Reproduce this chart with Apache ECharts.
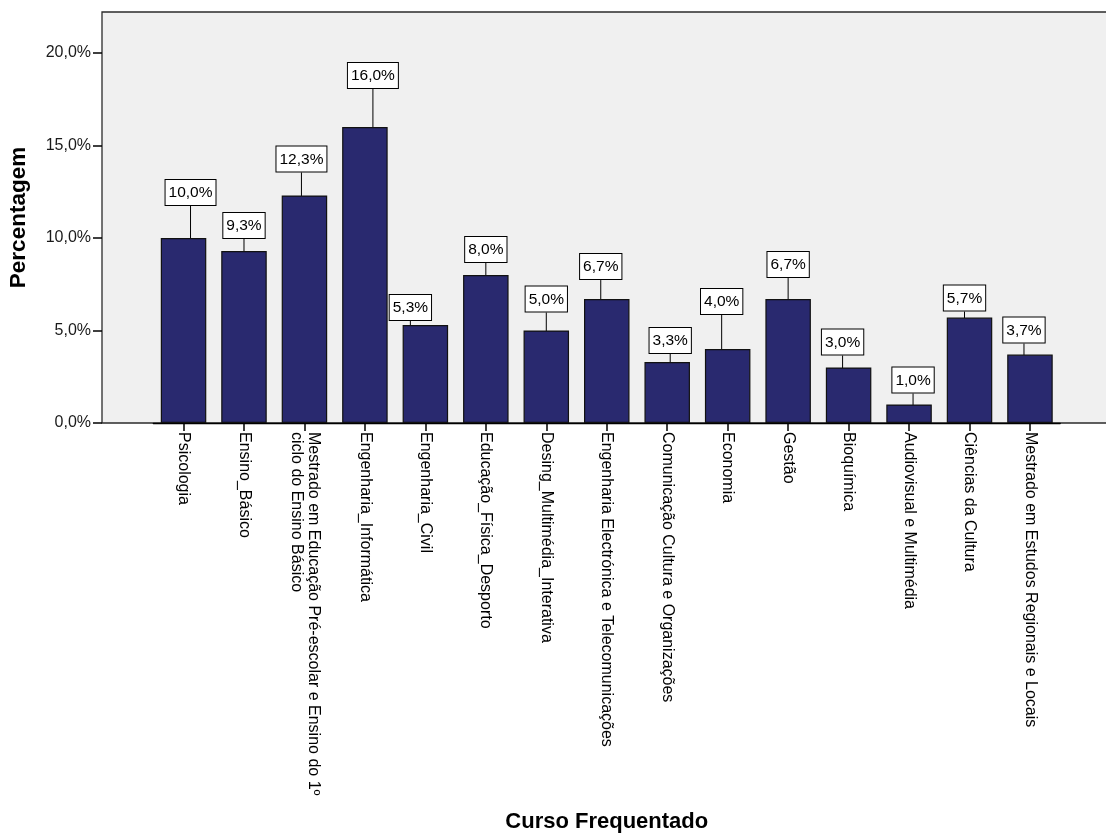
<!DOCTYPE html>
<html>
<head>
<meta charset="utf-8">
<title>Curso Frequentado</title>
<script src="https://cdn.jsdelivr.net/npm/echarts@6/dist/echarts.min.js"></script>
<style>
  html, body { margin: 0; padding: 0; background: #ffffff; }
  #chart { width: 1106px; height: 839px; }
</style>
</head>
<body>
<div id="chart"></div>
<script>
// Courses attended and the share of respondents in each (percent)
const cursos = [
  'Psicologia',
  'Ensino_Básico',
  'Mestrado em Educação Pré-escolar e Ensino do 1º\nciclo do Ensino Básico',
  'Engenharia_Informática',
  'Engenharia_Civil',
  'Educação_Física_Desporto',
  'Desing_Multimédia_Interativa',
  'Engenharia Electrónica e Telecomunicações',
  'Comunicação Cultura e Organizações',
  'Economia',
  'Gestão',
  'Bioquímica',
  'Audiovisual e Multimédia',
  'Ciências da Cultura',
  'Mestrado em Estudos Regionais e Locais'
];
const percentagens = [10.0, 9.3, 12.3, 16.0, 5.3, 8.0, 5.0, 6.7, 3.3, 4.0, 6.7, 3.0, 1.0, 5.7, 3.7];
const yTicks = [0, 5, 10, 15, 20];

// Callout placement for the value boxes (pixels: lift above the bar, sideways nudge)
const calloutLift = [28, 8, 19, 34, 0, 8, 14, 15, 4, 30, 17, 8, 7, 2, 7];
const calloutShift = [7, 0, -3, 8, -15, 0, 0, -6, 3, -6, 0, -6, 4, -5, -6];

const FONT = "'Liberation Sans', Arial, Helvetica, sans-serif";
const fmtPct = v => v.toFixed(1).replace('.', ',') + '%';

const chart = echarts.init(document.getElementById('chart'), null, { renderer: 'canvas' });

chart.setOption({
  animation: false,
  backgroundColor: '#ffffff',
  textStyle: { fontFamily: FONT },
  grid: [
    // plot frame with its grey fill
    { left: 102, top: 12, right: -6, bottom: 416, show: true,
      backgroundColor: '#f0f0f0', borderColor: '#2b2b2b', borderWidth: 1.3,
      outerBoundsMode: 'none' },
    // bars, inset from the frame
    { left: 153.3, right: 45.8, top: 53, bottom: 416, outerBoundsMode: 'none' }
  ],
  xAxis: [
    { gridIndex: 0, type: 'category', data: [''], show: false },
    {
      gridIndex: 1,
      type: 'category',
      data: cursos,
      axisLine: { show: true, lineStyle: { color: '#000000', width: 1.3 } },
      axisTick: { show: true, alignWithLabel: true, length: 8, lineStyle: { color: '#000000', width: 1.5 } },
      axisLabel: {
        interval: 0, rotate: -90, margin: 9,
        fontFamily: FONT, fontSize: 16, color: '#000000', lineHeight: 17
      },
      name: 'Curso Frequentado',
      nameLocation: 'middle',
      nameGap: 388,
      nameTextStyle: { fontFamily: FONT, fontSize: 22, fontWeight: 'bold', color: '#000000' }
    }
  ],
  yAxis: [
    {
      // carries the axis title, centred on the whole frame
      gridIndex: 0, type: 'value', min: 0, max: 1,
      axisLine: { show: false }, axisTick: { show: false },
      axisLabel: { show: false }, splitLine: { show: false },
      name: 'Percentagem',
      nameLocation: 'middle',
      nameGap: 72,
      nameTextStyle: { fontFamily: FONT, fontSize: 22.5, fontWeight: 'bold', color: '#000000' }
    },
    {
      gridIndex: 1,
      type: 'value',
      min: yTicks[0],
      max: yTicks[yTicks.length - 1],
      interval: yTicks[1] - yTicks[0],
      offset: 51.3,
      axisLine: { show: false },
      axisTick: { show: true, length: 9, lineStyle: { color: '#000000', width: 1.5 } },
      splitLine: { show: false },
      axisLabel: {
        margin: 11, fontFamily: FONT, fontSize: 16, color: '#1a1a1a',
        formatter: v => fmtPct(v)
      }
    }
  ],
  series: [
    {
      type: 'bar',
      xAxisIndex: 1,
      yAxisIndex: 1,
      data: percentagens,
      barWidth: 45.5,
      itemStyle: { color: '#29296f', borderColor: '#111111', borderWidth: 1.2 },
      label: {
        show: true,
        position: 'top',
        distance: 5,
        formatter: p => fmtPct(p.value),
        fontFamily: FONT,
        fontSize: 15.5,
        color: '#000000',
        backgroundColor: '#ffffff',
        borderColor: '#000000',
        borderWidth: 1,
        padding: [5, 3, 4, 3]
      },
      labelLine: { show: true, lineStyle: { color: '#000000', width: 1 } },
      labelLayout: p => ({ dx: calloutShift[p.dataIndex], dy: -calloutLift[p.dataIndex], hideOverlap: false })
    }
  ]
});
</script>
</body>
</html>
